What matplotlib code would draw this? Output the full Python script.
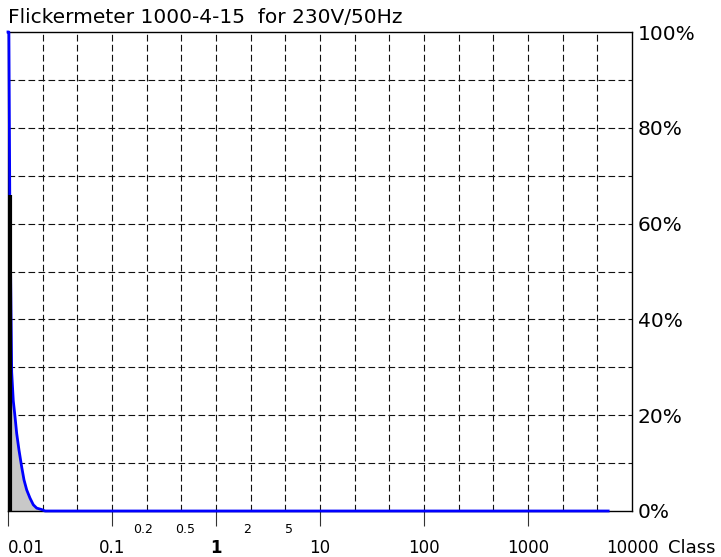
import numpy as np
import matplotlib
matplotlib.use("Agg")
import matplotlib.pyplot as plt

plt.rcParams['font.family'] = ['DejaVu Sans']

# values (class on log axis, percent)
title = "Flickermeter 1000-4-15  for 230V/50Hz"
curve_class = [0.0100, 0.0102, 0.0104, 0.01085, 0.01124, 0.01168, 0.01212, 0.01276,
               0.01354, 0.01425, 0.01513, 0.01627, 0.01751, 0.01888, 0.02109, 0.0227, 5900]
curve_pct = [100, 100, 66, 29, 23, 19.7, 16.2, 12.7, 9.2, 6.5, 4.4, 2.7, 1.3, 0.6, 0.3, 0, 0]
hist_class = [0.01034]
hist_pct = [66]

major_x = [0.01, 0.1, 1, 10, 100, 1000, 10000]
major_lbl = ["0.01", "0.1", "1", "10", "100", "1000", "10000"]
minor_x = [0.2, 0.5, 2, 5]
minor_lbl = ["0.2", "0.5", "2", "5"]
y_ticks = [0, 20, 40, 60, 80, 100]

W, H = 721, 557
fig = plt.figure(figsize=(W / 100, H / 100), dpi=100)
ax = fig.add_axes([8 / W, 46 / H, 624 / W, 479 / H])
ax.set_xscale('log')
ax.set_xlim(0.01, 10000)
ax.set_ylim(0, 100)

# dashed grid: 3 columns per decade, 10 rows
grid_x = 10.0 ** (np.arange(-5, 12) / 3.0)
ax.vlines(grid_x, 0, 100, colors='#111111', linestyles=(0, (6, 3)), lw=0.8, zorder=1)
ax.hlines(np.arange(10, 100, 10), 0.01, 10000, colors='#111111',
          linestyles=(0, (6, 3)), lw=0.8, zorder=1)

ax.fill_between(curve_class, curve_pct, color='#c8c8c8', lw=0, zorder=2)
ax.plot(curve_class, curve_pct, color='#0000ff', lw=2, zorder=3, clip_on=False)
ax.vlines(hist_class, 0, hist_pct, colors='black', lw=3, zorder=4)

for s in ax.spines.values():
    s.set_color('black')
    s.set_linewidth(1)

# decade ticks below axis
ax.set_xticks(major_x[:-1])
ax.set_xticklabels([])
ax.xaxis.set_minor_locator(matplotlib.ticker.NullLocator())
ax.tick_params(axis='x', length=11, width=0.8, color='#333333', direction='out')

tr = ax.get_xaxis_transform()
for xv, lb in zip(major_x, major_lbl):
    ax.text(xv, -0.0877, lb, transform=tr, fontsize=12, va='baseline',
            ha='left' if xv == 0.01 else 'center',
            fontweight='bold' if lb == "1" else 'normal')
for xv, lb in zip(minor_x, minor_lbl):
    ax.text(xv, -0.0459, lb, transform=tr, fontsize=9, va='baseline', ha='center')
ax.text(1 + 36 / 624, -0.0877, "Class", transform=ax.transAxes, fontsize=13, va='baseline')

ax.yaxis.tick_right()
ax.set_yticks(y_ticks)
ax.set_yticklabels([f"{v}%" for v in y_ticks])
ax.tick_params(axis='y', length=0, pad=4.3, labelsize=14.5)

fig.text(8 / W, (H - 23) / H, title, fontsize=14.5, va='baseline', ha='left')

fig.savefig("out.png", dpi=100)
